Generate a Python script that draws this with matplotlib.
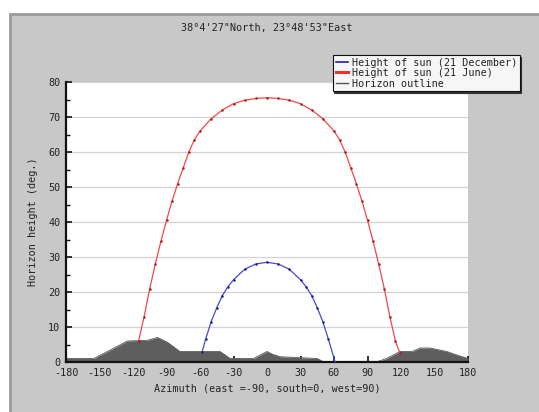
import matplotlib
matplotlib.use("Agg")
import matplotlib.pyplot as plt
from matplotlib.patches import Rectangle
from matplotlib.lines import Line2D

# Sun height on 21 December (azimuth deg, height deg)
az_dec = [-58, -55, -50, -45, -40, -35, -30, -20, -10, 0, 10, 20, 30, 35, 40, 45, 50, 55, 61]
h_dec = [3, 6.5, 11.5, 15.5, 19, 21.5, 23.5, 26.5, 28, 28.5, 28, 26.5, 23.5, 21.5, 19, 15.5, 11.5, 6.5, 0]

# Sun height on 21 June
az_jun = [-115, -110, -105, -100, -95, -90, -85, -80, -75, -70, -65, -60, -50, -40, -30, -20, -10, 0,
          10, 20, 30, 40, 50, 60, 65, 70, 75, 80, 85, 90, 95, 100, 105, 110, 115, 119]
h_jun = [6, 13, 21, 28, 34.5, 40.5, 46, 51, 55.5, 60, 63.5, 66, 69.5, 72, 73.8, 74.8, 75.3, 75.5,
         75.3, 74.8, 73.8, 72, 69.5, 66, 63.5, 60, 55.5, 51, 46, 40.5, 34.5, 28, 21, 13, 6, 2.5]

# Horizon outline
az_hor = [-180, -155, -140, -125, -107, -98, -89, -78, -42, -33, -12, -5, 0, 5, 12, 45, 51,
          98, 107, 119, 130, 137, 146, 161, 170, 180]
h_hor = [1, 1, 3.5, 6, 6.2, 7, 5.6, 3, 3, 1, 1, 2.2, 3, 2.2, 1.5, 1, 0,
         0, 1, 3, 3, 4, 4, 3, 2, 1]

x_ticks = list(range(-180, 181, 30))
y_ticks = list(range(0, 81, 10))

title = "38\u00b04'27\"North, 23\u00b048'53\"East"
legend_labels = ["Height of sun (21 December)", "Height of sun (21 June)", "Horizon outline"]
xlabel = "Azimuth (east =-90, south=0, west=90)"
ylabel = "Horizon height (deg.)"

W, H = 539, 412
fig = plt.figure(figsize=(W / 100, H / 100), dpi=100)
fig.patch.set_facecolor("white")

font = ["DejaVu Sans Mono"]
fs = 7.3

# grey panel behind the chart
panel = Rectangle((10 / W, -0.01), 1.05, 1 - 14 / H + 0.01, transform=fig.transFigure,
                  facecolor="#c8c8c8", edgecolor="#9c9c9c", linewidth=2.0, zorder=-5)
fig.patches.append(panel)

left, right = 66 / W, 468 / W
bottom, top = 1 - 362 / H, 1 - 82 / H
ax = fig.add_axes([left, bottom, right - left, top - bottom])
ax.set_facecolor("white")

ax.set_xlim(-180, 180)
ax.set_ylim(0, 80)

for y in y_ticks[1:]:
    ax.axhline(y, color="#d2d2d2", linewidth=0.9, zorder=1)

ax.fill_between(az_hor, 0, h_hor, color="#5e5e5e", linewidth=0, zorder=2)
ax.plot(az_hor, h_hor, color="#555555", linewidth=0.6, zorder=2)

ax.plot(az_jun, h_jun, color="#f04848", linewidth=0.9, zorder=3)
ax.plot(az_jun, h_jun, linestyle="none", marker="o", markersize=0.8,
        color="#a02020", zorder=3)
ax.plot(az_dec, h_dec, color="#4848d8", linewidth=0.9, zorder=3)
ax.plot(az_dec, h_dec, linestyle="none", marker="o", markersize=0.8,
        color="#202080", zorder=3)

for s in ["top", "right"]:
    ax.spines[s].set_visible(False)
for s in ["left", "bottom"]:
    ax.spines[s].set_linewidth(1.6)
    ax.spines[s].set_color("#111111")

ax.set_xticks(x_ticks)
ax.set_xticklabels([str(v) for v in x_ticks], fontfamily=font, fontsize=fs, color="#222222")
ax.set_yticks(y_ticks)
ax.set_yticklabels([str(v) for v in y_ticks], fontfamily=font, fontsize=fs, color="#222222")
ax.set_yticks(list(range(5, 80, 10)), minor=True)
ax.tick_params(axis="both", direction="in", length=4, width=1.2, color="#111111", pad=4)
ax.tick_params(axis="y", which="minor", direction="in", length=3, width=1.0, color="#111111")

ax.set_xlabel(xlabel, fontfamily=font, fontsize=fs, color="#222222", labelpad=4)
ax.set_ylabel(ylabel, fontfamily=font, fontsize=fs, color="#222222", labelpad=7)

fig.text(267 / W, 1 - 28 / H, title, ha="center", va="center",
         fontfamily=font, fontsize=fs, color="#222222")

handles = [Line2D([], [], color="#2020a0", linewidth=1.2),
           Line2D([], [], color="#f03030", linewidth=2.2),
           Line2D([], [], color="#555555", linewidth=1.0)]
leg = fig.legend(handles, legend_labels, loc="upper left",
                 bbox_to_anchor=(333 / W, 1 - 55 / H),
                 prop={"family": font, "size": fs}, frameon=True, fancybox=False,
                 shadow={"ox": 1, "oy": -1.5, "color": "#333333", "alpha": 1},
                 handlelength=1.2, handletextpad=0.4, labelspacing=0.05,
                 borderpad=0.25, borderaxespad=0)
leg.get_frame().set_facecolor("#f6f6f6")
leg.get_frame().set_edgecolor("#111111")
leg.get_frame().set_linewidth(0.8)
leg.get_frame().set_alpha(1)
for t in leg.get_texts():
    t.set_color("#222222")

fig.savefig("out.png", dpi=100)
